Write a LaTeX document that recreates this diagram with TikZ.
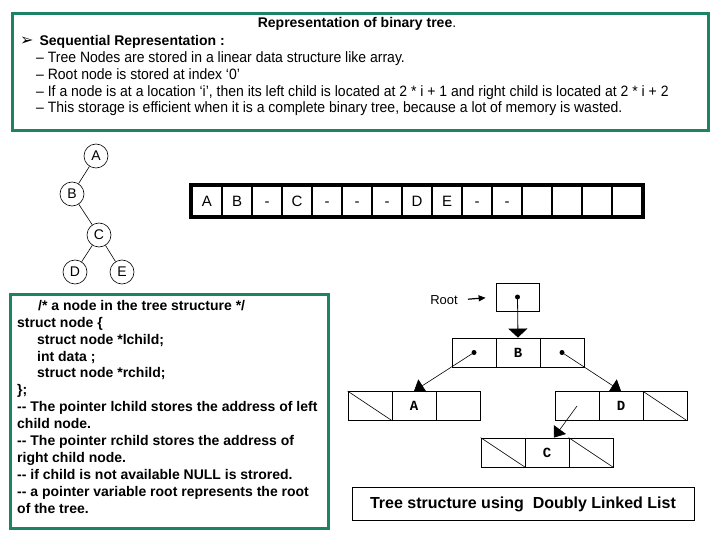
\documentclass[tikz,border=0pt]{standalone}
\usepackage{fontspec}
\setmainfont{Liberation Sans}
\newfontfamily\symfont{DejaVu Sans}
\newfontfamily\monofont{Liberation Mono}
\usetikzlibrary{arrows.meta}
\definecolor{frame}{RGB}{30,130,100}
\tikzset{
  gbox/.style={draw=frame, line width=3pt},
  circ/.style={draw, circle, minimum size=24pt, inner sep=0pt, line width=0.6pt, font=\fontsize{14}{16}\selectfont},
  arr/.style={draw, minimum width=30pt, minimum height=30pt, inner sep=0pt, line width=2pt, text height=11pt, text depth=0pt, font=\fontsize{15}{17}\selectfont},
  cell/.style={draw, minimum width=44pt, minimum height=29pt, inner sep=0pt, line width=0.8pt, font=\monofont\bfseries\fontsize{14}{16}\selectfont},
  dotn/.style={circle, fill, inner sep=0pt, minimum size=5pt},
  ptr/.style={-{Triangle[width=15pt,length=10pt]}, line width=0.6pt},
  toptxt/.style={anchor=base west, inner sep=0pt, font=\fontsize{15}{17}\selectfont},
}
\begin{document}
\begin{tikzpicture}[x=1pt, y=-1pt]
\path[use as bounding box] (0,0) rectangle (720,540);
% top box
\draw[gbox] (12,14) rectangle (708,131);
\node[anchor=base, inner sep=0pt, font=\bfseries\fontsize{14}{16}\selectfont] (title) at (357,28) {Representation of binary tree\textmd{.}};
\node[toptxt, font=\bfseries\fontsize{14}{16}\selectfont] (seq) at (20,46) {{\symfont\mdseries\fontsize{16}{18}\selectfont ➢}\hspace{6pt}Sequential Representation :};
\node[toptxt] (l1) at (36,63) {\scalebox{0.933}[1]{– Tree Nodes are stored in a linear data structure like array.}};
\node[toptxt] (l2) at (36,80) {\scalebox{0.933}[1]{– Root node is stored at index ‘0’}};
\node[toptxt] (l3) at (36,96.5) {\scalebox{0.933}[1]{– If a node is at a location ‘i’, then its left child is located at 2 * i + 1 and right child is located at 2 * i + 2}};
\node[toptxt] (l4) at (36,113) {\scalebox{0.933}[1]{– This storage is efficient when it is a complete binary tree, because a lot of memory is wasted.}};
% tree
\node[circ] (tA) at (96,156) {A};
\node[circ] (tB) at (72,194) {B};
\node[circ] (tC) at (99,235) {C};
\node[circ] (tD) at (75,272) {D};
\node[circ] (tE) at (122,272) {E};
\draw[line width=0.6pt] (tA) -- (tB);
\draw[line width=0.6pt] (tB) -- (tC);
\draw[line width=0.6pt] (tC) -- (tD);
\draw[line width=0.6pt] (tC) -- (tE);
% array
\foreach \t [count=\i from 0] in {A,B,-,C,-,-,-,D,E,-,-,{},{},{},{}} {
  \node[arr] (a\i) at (207+30*\i,201) {\t};
}
\draw[line width=3.5pt] (a0.north west) rectangle (a14.south east);
% code box
\draw[gbox] (10,294) rectangle (328,528);
\node[anchor=north west, inner sep=0pt, align=left, font=\bfseries\fontsize{14}{16.9}\selectfont] (code) at (17,300) {%
\hspace*{21pt}/* a node in the tree structure */\\
struct node \{\\
\hspace*{20pt}struct node *lchild;\\
\hspace*{20pt}int data ;\\
\hspace*{20pt}struct node *rchild;\\
\};\\
-{}- The pointer lchild stores the address of left\\
child node.\\
-{}- The pointer rchild stores the address of\\
right child node.\\
-{}- if child is not available NULL is strored.\\
-{}- a pointer variable root represents the root\\
of the tree.};
% linked list
\node[anchor=east, inner sep=0pt, font=\fontsize{13}{15}\selectfont] (root) at (458,300) {Root};
\node[draw, line width=0.8pt, minimum width=43pt, minimum height=28pt, inner sep=0pt] (rbox) at (517.5,297) {};
\node[dotn] (rdot) at (rbox.center) {};
\draw[-{Triangle[width=6pt,length=7pt]}, line width=1.2pt, shorten <=10pt, shorten >=10pt] (root.east) -- (rbox.west);
\node[cell] (bL) at (474,352.5) {};
\node[cell] (bM) at (518,352.5) {B};
\node[cell] (bR) at (562,352.5) {};
\node[cell] (aL) at (370,406) {};
\node[cell] (aM) at (414,406) {A};
\node[cell] (aR) at (458,406) {};
\node[cell] (dL) at (577,406) {};
\node[cell] (dM) at (621,406) {D};
\node[cell] (dR) at (665,406) {};
\node[cell] (cL) at (503,452.5) {};
\node[cell] (cM) at (547,452.5) {C};
\node[cell] (cR) at (591,452.5) {};
\foreach \n in {aL,dR,cL,cR} { \draw[line width=0.6pt] (\n.north west) -- (\n.south east); }
\node[dotn] (bLd) at (bL.center) {};
\node[dotn] (bRd) at (bR.center) {};
\draw[-{Triangle[width=19pt,length=9pt]}, line width=0.8pt] (rdot.center) -- (bM.north);
\draw[ptr] (bLd.center) -- (aM.north);
\draw[ptr] (bRd.center) -- (dM.north);
\draw[ptr] (dL.center) -- ([xshift=7pt]cM.north);
% caption
\node[draw, line width=0.8pt, minimum width=342pt, minimum height=33pt, inner sep=0pt, font=\bfseries\fontsize{16}{18}\selectfont] (cap) at (523,504) {Tree structure using\ \ Doubly Linked List};
\end{tikzpicture}
\end{document}
